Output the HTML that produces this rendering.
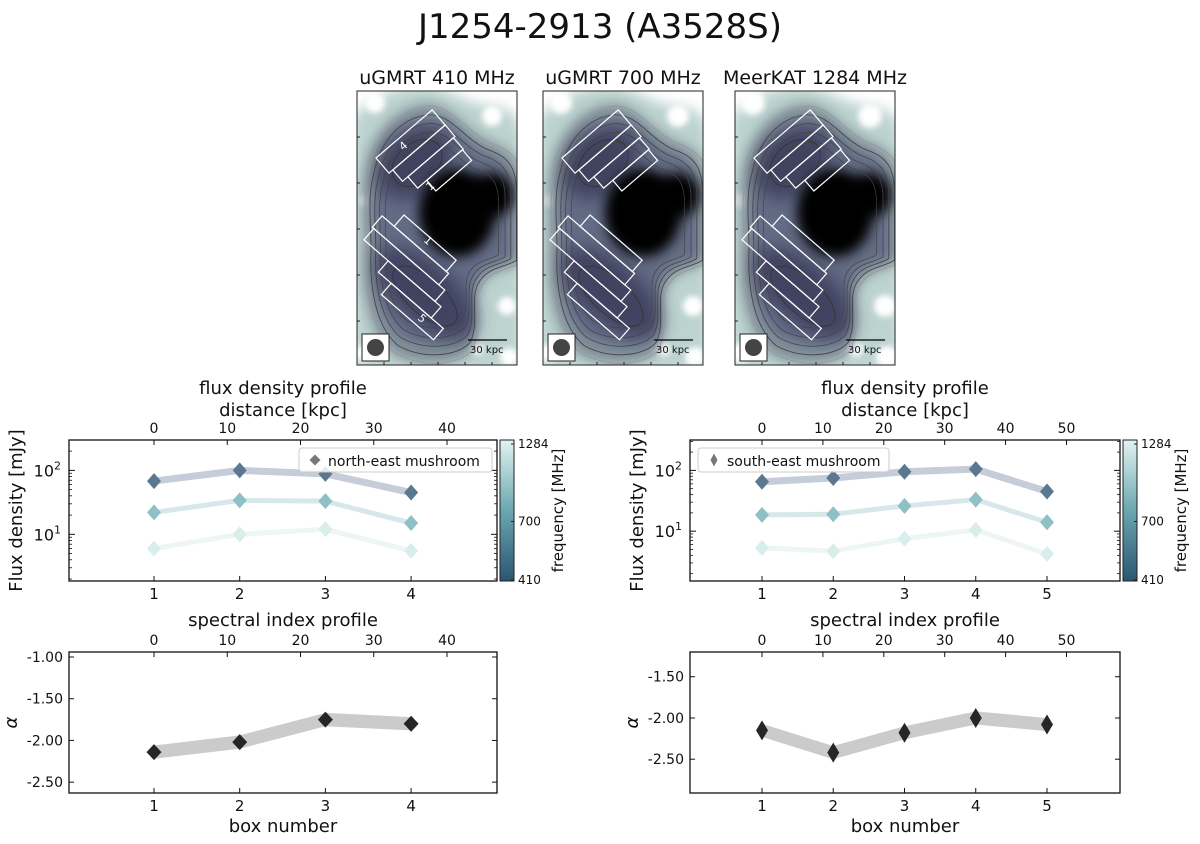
<!DOCTYPE html>
<html><head><meta charset="utf-8"><style>
body{margin:0;background:#fff}
svg text{font-family:"DejaVu Sans","Liberation Sans",sans-serif;fill:#111}
</style></head><body>
<svg id="fig" xmlns="http://www.w3.org/2000/svg" width="1200" height="839" viewBox="0 0 1200 839">
<defs>
<filter id="b3" x="-30%" y="-30%" width="160%" height="160%"><feGaussianBlur stdDeviation="3"/></filter>
<filter id="b6" x="-30%" y="-30%" width="160%" height="160%"><feGaussianBlur stdDeviation="6"/></filter>
<filter id="b9" x="-30%" y="-30%" width="160%" height="160%"><feGaussianBlur stdDeviation="9"/></filter>
<linearGradient id="cbar" x1="0" y1="1" x2="0" y2="0">
<stop offset="0" stop-color="#2b5572"/><stop offset="0.5" stop-color="#6aa7b0"/><stop offset="1" stop-color="#e2f3f1"/>
</linearGradient>
</defs>
<text x="600" y="38" font-size="34" text-anchor="middle">J1254-2913 (A3528S)</text>
<g id="imgs"></g>
<g id="charts"></g>
</svg>
<script>
// ---- chart data ----
const boxesNE = [1, 2, 3, 4];
const boxesSE = [1, 2, 3, 4, 5];
const freqs = [410, 700, 1284];
const fluxNE410 = [68, 100, 88, 45];
const fluxNE700 = [22, 34, 33, 15];
const fluxNE1284 = [6, 10, 12, 5.5];
const fluxSE410 = [65, 75, 95, 105, 45];
const fluxSE700 = [18.5, 19, 26, 33, 14];
const fluxSE1284 = [5.3, 4.7, 7.5, 10.5, 4.2];
const alphaNE = [-2.14, -2.02, -1.75, -1.80];
const alphaSE = [-2.15, -2.42, -2.18, -2.00, -2.08];
const alphaErrNE = [0.08, 0.08, 0.08, 0.08];
const alphaErrSE = [0.08, 0.08, 0.08, 0.08, 0.08];
const kpcPerBox = 11.7;
const kpcTicksNE = [0, 10, 20, 30, 40];
const kpcTicksSE = [0, 10, 20, 30, 40, 50];
const alphaTicksNE = [-1.0, -1.5, -2.0, -2.5];
const alphaTicksSE = [-1.5, -2.0, -2.5];
const fluxTickExp = [1, 2];
const panelTitles = ["uGMRT 410 MHz", "uGMRT 700 MHz", "MeerKAT 1284 MHz"];

const NS = "http://www.w3.org/2000/svg";
function mk(tag, attrs, parent, txt){
  const e = document.createElementNS(NS, tag);
  for (const k in attrs) e.setAttribute(k, attrs[k]);
  if (txt !== undefined) e.textContent = txt;
  parent.appendChild(e);
  return e;
}
const charts = document.getElementById('charts');
const imgs = document.getElementById('imgs');

// ---- image panels ----
const panelX = [357, 543, 735];
const outline = "M15,80 C22,45 45,22 72,20 C95,20 105,42 130,55 C150,62 162,70 162,100 L162,170 C150,178 132,176 122,195 C114,212 124,235 114,255 C100,270 65,272 40,258 C18,240 10,200 12,160 C12,130 8,105 15,80 Z";
const halo = "M-5,30 C10,5 40,-5 70,-5 C100,0 110,15 140,15 C165,20 165,40 165,60 L165,280 L-5,280 Z";
panelX.forEach((px, i) => {
  const g = mk('g', {transform: `translate(${px},91)`}, imgs);
  
  
  const cid = 'clip' + i;
  const cp = mk('clipPath', {id: cid}, g);
  mk('rect', {x: 0, y: 0, width: 160, height: 274}, cp);
  const c = mk('g', {'clip-path': `url(#${cid})`}, g);
  mk('rect', {x: 0, y: 0, width: 160, height: 274, fill: '#fff'}, c);
  mk('path', {d: halo, fill: '#bcd3cf', filter: 'url(#b6)'}, c);
  // white patches
  [[135, 25, 10], [150, 215, 9], [6, 262, 8], [152, 266, 9], [18, 12, 10], [8, 110, 6], [120, 258, 6]].forEach(p =>
    mk('circle', {cx: p[0], cy: p[1], r: p[2] + i, fill: '#fff', filter: 'url(#b3)'}, c));
  mk('path', {d: outline, fill: '#7f8c98', filter: 'url(#b6)', transform: 'translate(-6,-8) scale(1.05)'}, c);
  mk('path', {d: outline, fill: '#646c86', filter: 'url(#b6)', transform: 'translate(8,12) scale(0.9)'}, c);
  mk('ellipse', {cx: 58, cy: 72, rx: 42, ry: 32, fill: '#40425f', transform: 'rotate(-40 58 72)', filter: 'url(#b9)'}, c);
  mk('ellipse', {cx: 68, cy: 202, rx: 60, ry: 30, fill: '#404260', transform: 'rotate(42 68 202)', filter: 'url(#b9)'}, c);
  mk('ellipse', {cx: 100, cy: 122, rx: 38, ry: 44, fill: '#000', filter: 'url(#b6)'}, c);
  mk('circle', {cx: 135, cy: 104, r: 22, fill: '#000', filter: 'url(#b6)'}, c);
  // contours
  [1.04, 0.97, 0.9, 0.83, 0.75].forEach((s, k) => {
    mk('path', {d: outline, fill: 'none', stroke: k === 0 ? '#999' : '#444', 'stroke-width': 0.9,
      transform: `translate(${80 * (1 - s)},${145 * (1 - s)}) scale(${s})`}, c);
  });
  mk('ellipse', {cx: 60, cy: 72, rx: 28, ry: 20, fill: 'none', stroke: '#333', 'stroke-width': 0.8, transform: 'rotate(-40 60 72)'}, c);
  mk('ellipse', {cx: 68, cy: 205, rx: 40, ry: 18, fill: 'none', stroke: '#333', 'stroke-width': 0.8, transform: 'rotate(42 68 205)'}, c);
  // NE boxes
  const ne = mk('g', {transform: 'translate(19,67) rotate(-40.6)', fill: 'none', stroke: '#fff', 'stroke-width': 1.2}, c);
  [[0, 74, 0, 20], [5, 74, 20, 15], [12, 72, 35, 15], [24, 71, 50, 14]].forEach(b =>
    mk('rect', {x: b[0], y: b[2], width: b[1] - b[0], height: b[3]}, ne));
  // SE boxes
  const se = mk('g', {transform: 'translate(47,124) rotate(40.9)', fill: 'none', stroke: '#fff', 'stroke-width': 1.2}, c);
  [[0, 69, 0], [-16, 72, 15], [-14, 80, 30], [18, 88, 45], [35, 104, 60]].forEach(b =>
    mk('rect', {x: b[0], y: b[2], width: b[1] - b[0], height: 15}, se));
  if (i === 0) {
    mk('text', {x: 0, y: 0, 'font-size': 11, style: 'fill:#fff', transform: 'translate(46,60) rotate(-40)'}, c, '4');
    mk('text', {x: 0, y: 0, 'font-size': 11, style: 'fill:#fff', transform: 'translate(73,100) rotate(-40)'}, c, '1');
    mk('text', {x: 0, y: 0, 'font-size': 11, style: 'fill:#fff', transform: 'translate(66,150) rotate(40)'}, c, '1');
    mk('text', {x: 0, y: 0, 'font-size': 11, style: 'fill:#fff', transform: 'translate(60,228) rotate(40)'}, c, '5');
  }
  // beam
  const beam = mk('rect', {x: 5, y: 243, width: 27, height: 27, fill: '#fff', stroke: '#222', 'stroke-width': 1}, c);
  
  
  mk('circle', {cx: 18.5, cy: 256.5, r: 8.5, fill: '#444'}, c);
  const sb = mk('line', {x1: 111, y1: 249, x2: 150, y2: 249, stroke: '#000', 'stroke-width': 1.2}, c);
  
  
  mk('text', {x: 113, y: 262, 'font-size': 10}, c, '30 kpc');
  mk('rect', {x: 0, y: 0, width: 160, height: 274, fill: 'none', stroke: '#222', 'stroke-width': 1}, g);
  for (let t = 1; t < 6; t++) {
    mk('line', {x1: 0, y1: t * 46, x2: 3, y2: t * 46, stroke: '#222'}, g);
    mk('line', {x1: t * 27, y1: 274, x2: t * 27, y2: 271, stroke: '#222'}, g);
  }
  const tt = mk('text', {x: px + 80, y: 84, 'font-size': 19, 'text-anchor': 'middle'}, imgs, panelTitles[i]);
  
  
});

// ---- charts ----
function axisBox(g, L, R, T, B){
  mk('rect', {x: L, y: T, width: R - L, height: B - T, fill: 'none', stroke: '#111', 'stroke-width': 1.3}, g);
}
function diamond(g, x, y, w, h, fill){
  return mk('path', {d: `M${x},${y - h} L${x + w},${y} L${x},${y + h} L${x - w},${y} Z`, fill: fill}, g);
}
function topKpc(g, xs, ticks, T){
  ticks.forEach(t => {
    const x = xs(1 + t / kpcPerBox);
    mk('line', {x1: x, y1: T, x2: x, y2: T + 5, stroke: '#111'}, g);
    mk('text', {x: x, y: T - 7, 'font-size': 14, 'text-anchor': 'middle'}, g, String(t));
  });
}
function bottomBoxes(g, xs, boxes, B){
  boxes.forEach(b => {
    const x = xs(b);
    mk('line', {x1: x, y1: B, x2: x, y2: B - 5, stroke: '#111'}, g);
    mk('text', {x: x, y: B + 18, 'font-size': 15, 'text-anchor': 'middle'}, g, String(b));
  });
}

function fluxChart(name, L, R, T, B, x1px, spacing, boxes, series, logTop, logBot, legendX, legendW, legendText, cbX){
  const g = mk('g', {}, charts);
  
  
  const xs = b => x1px + (b - 1) * spacing;
  const ys = v => T + (logTop - Math.log10(v)) / (logTop - logBot) * (B - T);
  const lineCols = ['#c5cdd8', '#d7e7ea', '#eef6f5'];
  const dotCols = ['#5b7890', '#8ec0c5', '#d8eeeb'];
  series.forEach((s, k) => {
    const pl = mk('polyline', {points: s.map((v, j) => xs(boxes[j]) + ',' + ys(v)).join(' '), fill: 'none',
      stroke: lineCols[k], 'stroke-width': k === 0 ? 7 : 5, 'stroke-linejoin': 'round'}, g);
    
    
    s.forEach((v, j) => {
      const d = diamond(g, xs(boxes[j]), ys(v), 7, 8, dotCols[k]);
      
      
    });
  });
  axisBox(g, L, R, T, B);
  fluxTickExp.forEach(e => {
    const y = ys(Math.pow(10, e));
    mk('line', {x1: L, y1: y, x2: L + 6, y2: y, stroke: '#111'}, g);
    mk('line', {x1: R, y1: y, x2: R - 6, y2: y, stroke: '#111'}, g);
    const t = mk('text', {x: L - 8, y: y + 6, 'font-size': 16, 'text-anchor': 'end'}, g, '10');
    mk('tspan', {dy: -7, 'font-size': 11}, t, String(e));
  });
  for (let e = 0; e <= 2; e++) for (let m = 2; m <= 9; m++) {
    const v = m * Math.pow(10, e);
    const lv = Math.log10(v);
    if (lv < logBot || lv > logTop) continue;
    const y = ys(v);
    mk('line', {x1: L, y1: y, x2: L + 3, y2: y, stroke: '#111', 'stroke-width': 0.8}, g);
    mk('line', {x1: R, y1: y, x2: R - 3, y2: y, stroke: '#111', 'stroke-width': 0.8}, g);
  }
  bottomBoxes(g, xs, boxes, B);
  topKpc(g, xs, name.indexOf('ne') >= 0 ? kpcTicksNE : kpcTicksSE, T);
  const cx = (L + R) / 2;
  mk('text', {x: cx, y: 394, 'font-size': 18, 'text-anchor': 'middle'}, g, 'flux density profile');
  mk('text', {x: cx, y: 416, 'font-size': 18, 'text-anchor': 'middle'}, g, 'distance [kpc]');
  const yl = mk('text', {x: 0, y: 0, 'font-size': 18, 'text-anchor': 'middle', transform: `translate(${L - 47},${(T + B) / 2}) rotate(-90)`}, g, 'Flux density [mJy]');
  
  
  // legend
  const lg = mk('g', {}, g);
  
  
  mk('rect', {x: legendX, y: 448, width: legendW, height: 24, rx: 3, fill: '#fff', 'fill-opacity': 0.85, stroke: '#ccc'}, lg);
  if (legendText[0] === 'n') diamond(lg, legendX + 16, 460, 5.5, 5.5, '#777');
  else diamond(lg, legendX + 16, 460, 3.5, 6.5, '#777');
  mk('text', {x: legendX + 29, y: 466, 'font-size': 14}, lg, legendText);
  // colorbar
  const cb = mk('rect', {x: cbX, y: T, width: 14, height: B - T, fill: 'url(#cbar)', stroke: '#222', 'stroke-width': 1}, g);
  
  
  [[T + 4, '1284'], [(T + B) / 2 + 11, '700'], [B - 1, '410']].forEach(p => {
    mk('text', {x: cbX + 18, y: p[0] + 4, 'font-size': 12}, g, p[1]);
    mk('line', {x1: cbX + 14, y1: p[0], x2: cbX + 11, y2: p[0], stroke: '#222'}, g);
  });
  mk('text', {x: 0, y: 0, 'font-size': 15, 'text-anchor': 'middle', transform: `translate(${cbX + 63},${(T + B) / 2}) rotate(-90)`}, g, 'frequency [MHz]');
}

function alphaChart(name, L, R, T, B, x1px, spacing, boxes, vals, errs, aTop, aBot, ticks){
  const g = mk('g', {}, charts);
  
  
  const xs = b => x1px + (b - 1) * spacing;
  const ys = v => T + (aTop - v) / (aTop - aBot) * (B - T);
  const up = vals.map((v, j) => xs(boxes[j]) + ',' + ys(v + errs[j]));
  const dn = vals.map((v, j) => xs(boxes[j]) + ',' + ys(v - errs[j])).reverse();
  const band = mk('polygon', {points: up.concat(dn).join(' '), fill: '#cbcbcb'}, g);
  
  
  vals.forEach((v, j) => {
    const d = diamond(g, xs(boxes[j]), ys(v), boxes.length === 5 ? 6 : 7.5, boxes.length === 5 ? 10 : 8, '#262626');
    
    
  });
  axisBox(g, L, R, T, B);
  ticks.forEach(t => {
    const y = ys(t);
    mk('line', {x1: L, y1: y, x2: L + 5, y2: y, stroke: '#111'}, g);
    mk('line', {x1: R, y1: y, x2: R - 5, y2: y, stroke: '#111'}, g);
    mk('text', {x: L - 6, y: y + 5, 'font-size': 14, 'text-anchor': 'end'}, g, t.toFixed(2));
  });
  bottomBoxes(g, xs, boxes, B);
  topKpc(g, xs, boxes.length === 5 ? kpcTicksSE : kpcTicksNE, T);
  const cx = (L + R) / 2;
  mk('text', {x: cx, y: 626, 'font-size': 18, 'text-anchor': 'middle'}, g, 'spectral index profile');
  const xl = mk('text', {x: cx, y: 832, 'font-size': 18, 'text-anchor': 'middle'}, g, 'box number');
  
  
  mk('text', {x: 0, y: 0, 'font-size': 18, 'font-style': 'italic', 'text-anchor': 'middle', transform: `translate(${L - 52},${(T + B) / 2}) rotate(-90)`}, g, 'α');
}

fluxChart('flux-chart-ne', 69, 497, 440, 581, 154, 85.7, boxesNE, [fluxNE410, fluxNE700, fluxNE1284], 2.475, 0.27, 299, 193, 'north-east mushroom', 500);
fluxChart('flux-chart-se', 690, 1120, 440, 581, 762, 71.25, boxesSE, [fluxSE410, fluxSE700, fluxSE1284], 2.5, 0.18, 698, 191, 'south-east mushroom', 1123);
alphaChart('alpha-chart-ne', 69, 497, 652, 793, 154, 85.7, boxesNE, alphaNE, alphaErrNE, -0.94, -2.63, alphaTicksNE);
alphaChart('alpha-chart-se', 690, 1120, 652, 793, 762, 71.25, boxesSE, alphaSE, alphaErrSE, -1.20, -2.91, alphaTicksSE);
</script>
</body></html>
